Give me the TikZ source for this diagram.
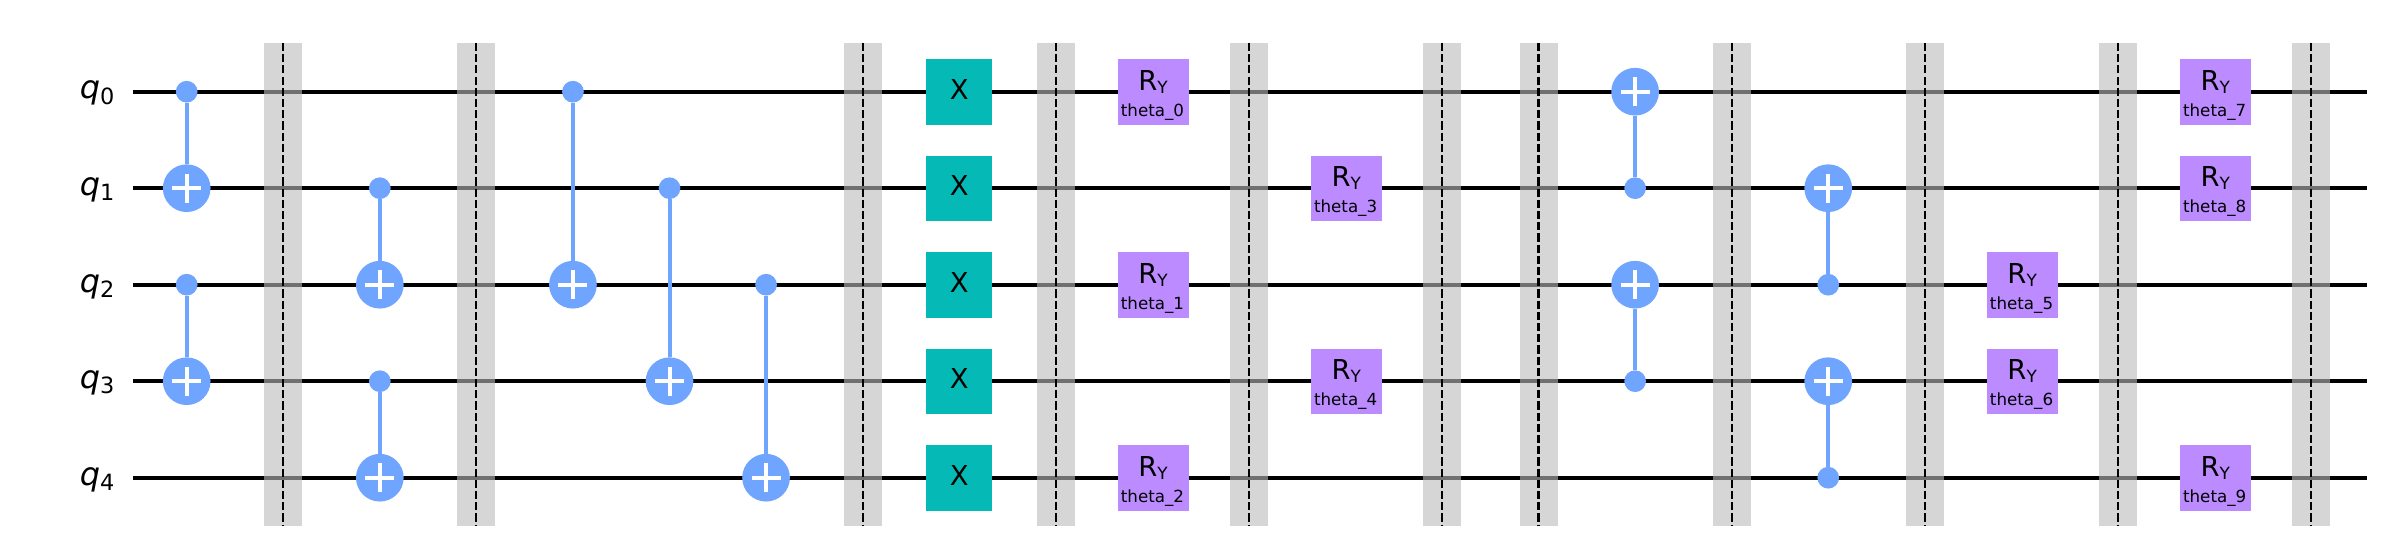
\documentclass[tikz,border=0pt]{standalone}
\usepackage{fontspec}
\setmainfont{DejaVu Sans}
\definecolor{cxblue}{HTML}{6FA4FF}
\definecolor{xteal}{HTML}{05BAB6}
\definecolor{rypurple}{HTML}{BB8BFF}
\definecolor{shade}{HTML}{BBBBBB}
\newcommand{\wy}[1]{\fpeval{91.7+96.5*#1}}
\newcommand{\cx}[1]{\fpeval{186.7+96.56*#1}}
\tikzset{
  x=1pt,y=-1pt,
  wireline/.style={line width=4pt,black},
  barrierbox/.style={draw=none,fill=shade,fill opacity=0.6,minimum width=38pt,minimum height=483pt,inner sep=0pt,outer sep=0pt},
  barrierdash/.style={line width=2.2pt,black,dash pattern=on 8.1pt off 3.1pt},
  ctrldot/.style={circle,fill=cxblue,minimum size=21.7pt,inner sep=0pt,outer sep=0pt},
  target/.style={circle,fill=cxblue,minimum size=47.7pt,inner sep=0pt,outer sep=0pt},
  linkline/.style={line width=4pt,cxblue},
  plusline/.style={line width=4pt,white},
  xgate/.style={fill=xteal,minimum width=66pt,minimum height=65.5pt,inner sep=0pt,outer sep=0pt},
  rygate/.style={fill=rypurple,minimum width=71pt,minimum height=65.5pt,inner sep=0pt,outer sep=0pt},
  txt/.style={inner sep=0pt,outer sep=0pt,anchor=base,text=black},
}
\newcommand{\qlab}[1]{\fontsize{32}{32}\selectfont\itshape q\raisebox{-5.3pt}{\fontsize{22.4}{22.4}\selectfont\upshape #1}}
\newcommand{\rytext}{\fontsize{27.4}{27.4}\selectfont R\raisebox{-3.3pt}{\fontsize{16.9}{16.9}\selectfont Y}}
% \cnotgate{name suffix}{col}{control row}{target row}
\newcommand{\cnotgate}[4]{%
  \node[target] (t#1) at (\cx{#2},\wy{#4}) {};
  \node[ctrldot] (c#1) at (\cx{#2},\wy{#3}) {};
  \draw[linkline] (c#1) -- (t#1);
  \draw[plusline] ([xshift=-14.5pt]t#1.center) -- ([xshift=14.5pt]t#1.center);
  \draw[plusline] ([yshift=-14.5pt]t#1.center) -- ([yshift=14.5pt]t#1.center);
}
\newcommand{\rygatenode}[3]{%
  \node[rygate] (ry#3) at (\fpeval{\cx{#1}+0.7},\fpeval{\wy{#2}+0.4}) {};
  \node[txt] (rl#3) at (\fpeval{\cx{#1}+0.8},\fpeval{\wy{#2}-1.7}) {\rytext};
  \node[txt] (rt#3) at (\fpeval{\cx{#1}+0.2},\fpeval{\wy{#2}+24.3}) {\fontsize{16.7}{16.7}\selectfont theta\_#3};
}
\begin{document}
\begin{tikzpicture}
\useasboundingbox (0,0) rectangle (2390,551);
\foreach \r in {0,...,4}{
  \coordinate (ws\r) at (133,\wy{\r});
  \coordinate (we\r) at (2367,\wy{\r});
  \draw[wireline] (ws\r) -- (we\r);
  \node[txt,anchor=base east] (q\r) at (114.5,\fpeval{\wy{\r}+7.3}) {\qlab{\r}};
}
\foreach \c in {1,3,7,9,11,13,14,16,18,20,22}{
  \node[barrierbox] (b\c) at (\cx{\c},284.5) {};
  \draw[barrierdash] (b\c.north) -- (b\c.south);
}
\cnotgate{a}{0}{0}{1}
\cnotgate{b}{0}{2}{3}
\cnotgate{d}{2}{1}{2}
\cnotgate{e}{2}{3}{4}
\cnotgate{f}{4}{0}{2}
\cnotgate{g}{5}{1}{3}
\cnotgate{h}{6}{2}{4}
\cnotgate{i}{15}{1}{0}
\cnotgate{j}{15}{3}{2}
\cnotgate{k}{17}{2}{1}
\cnotgate{l}{17}{4}{3}
\foreach \r in {0,...,4}{
  \node[xgate] (x\r) at (\cx{8},\fpeval{\wy{\r}+0.3}) {};
  \node[txt] (xl\r) at (\cx{8},\fpeval{\wy{\r}+7.6}) {\fontsize{27.4}{27.4}\selectfont X};
}
\rygatenode{10}{0}{0}
\rygatenode{10}{2}{1}
\rygatenode{10}{4}{2}
\rygatenode{12}{1}{3}
\rygatenode{12}{3}{4}
\rygatenode{19}{2}{5}
\rygatenode{19}{3}{6}
\rygatenode{21}{0}{7}
\rygatenode{21}{1}{8}
\rygatenode{21}{4}{9}
\end{tikzpicture}
\end{document}
